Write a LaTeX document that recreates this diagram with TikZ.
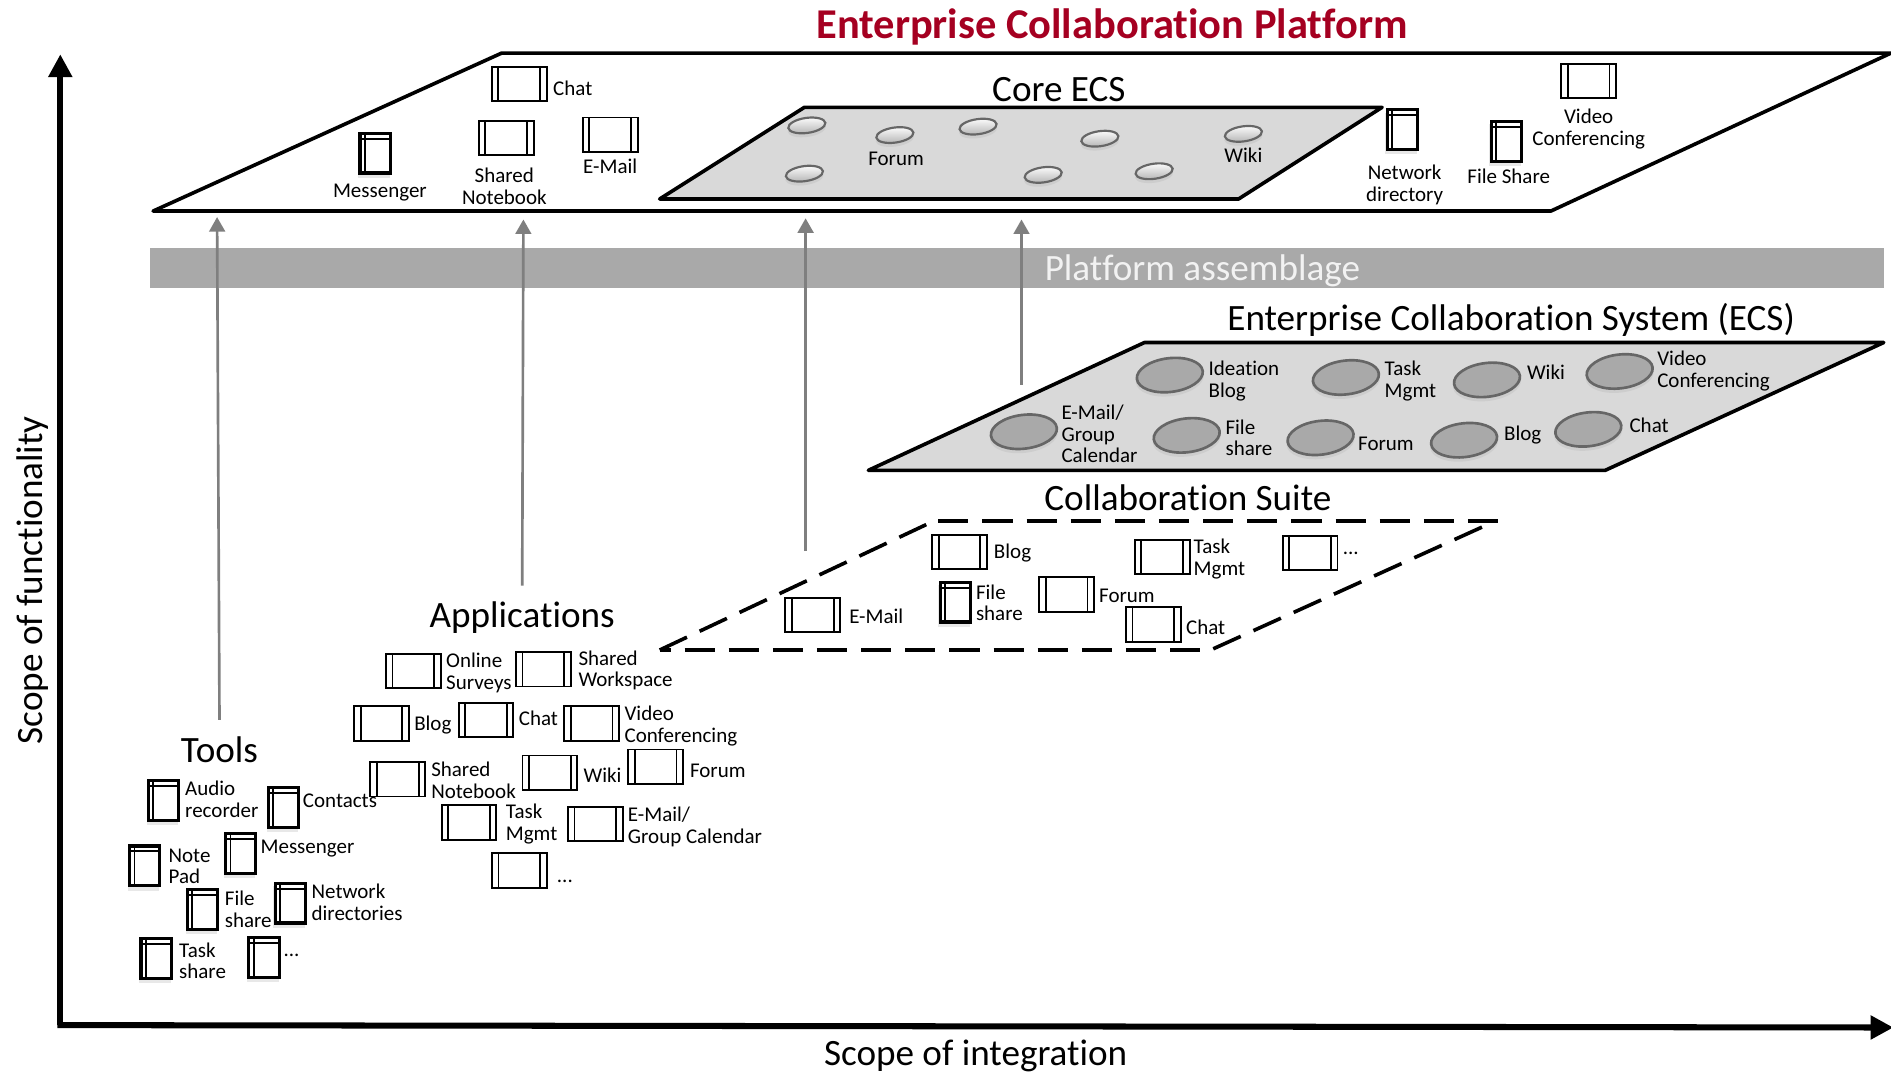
\documentclass[tikz,border=0pt]{standalone}
\usepackage{fontspec}
\setmainfont{Carlito}[Ligatures=NoCommon]
\usepackage{tikz}
\usetikzlibrary{shapes.geometric,arrows.meta,shadows}
\definecolor{platformRed}{RGB}{165,0,33}
\definecolor{planeGray}{RGB}{217,217,217}
\definecolor{bandGray}{RGB}{169,169,169}
\definecolor{flowGray}{RGB}{127,127,127}

\begin{document}
\begin{tikzpicture}[
  x=1pt, y=-1pt,
  title/.style={font=\fontsize{30.8}{36}\selectfont, inner sep=0pt},
  itemLabel/.style={font=\fontsize{17.4}{17.8}\selectfont, align=left, anchor=west, inner sep=0pt},
  itemBelow/.style={font=\fontsize{17.4}{17.8}\selectfont, align=center, inner sep=0pt}
]
	\tikzstyle{axis} = [line width=5pt, -{Triangle[length=19pt,width=19pt]}]
	\tikzstyle{upFlow} = [line width=2.2pt, draw=flowGray, -{Triangle[length=12pt,width=13pt]}]
	\tikzstyle{plane} = [line width=3pt, line join=round]
	\tikzstyle{appIcon} = [rectangle, draw=black, line width=1.6pt, fill=white, minimum width=45.5pt, minimum height=28.5pt, inner sep=0pt, path picture={
		\draw[line width=1.6pt] ([xshift=5.5pt]path picture bounding box.north west) -- ([xshift=5.5pt]path picture bounding box.south west);
		\draw[line width=1.6pt] ([xshift=-5.5pt]path picture bounding box.north east) -- ([xshift=-5.5pt]path picture bounding box.south east);
	}]
	\tikzstyle{toolIcon} = [rectangle, draw=black, line width=2.6pt, fill=white, minimum width=25pt, minimum height=33pt, inner sep=0pt, drop shadow={shadow xshift=-1pt, shadow yshift=-3pt, shadow scale=1.05, fill=black!30, opacity=0.3}, path picture={
		\draw[line width=1.6pt] ([xshift=4pt]path picture bounding box.north west) -- ([xshift=4pt]path picture bounding box.south west);
		\draw[line width=1.6pt] ([yshift=-4.5pt]path picture bounding box.north west) -- ([yshift=-4.5pt]path picture bounding box.north east);
	}]
	\tikzstyle{bigSpot} = [ellipse, draw=black!60, line width=2.2pt, fill=bandGray, minimum width=55pt, minimum height=28pt, inner sep=0pt, rotate=7, drop shadow={shadow xshift=0pt, shadow yshift=-3pt, shadow scale=1.03, fill=black!30, opacity=0.3}]
	\tikzstyle{smallSpot} = [ellipse, draw=black!60, line width=1.8pt, top color=white, bottom color=black!30, minimum width=31pt, minimum height=12.5pt, inner sep=0pt, rotate=8, drop shadow={shadow xshift=0pt, shadow yshift=-3pt, shadow scale=1.03, fill=black!30, opacity=0.3}]

	\useasboundingbox (0,0) rectangle (1568,889);

	% axes
	\coordinate (origin) at (50,850);
	\coordinate (functionTip) at (50,45);
	\coordinate (integrationTip) at (1570,852);
	\draw[axis] (origin) -- (functionTip);
	\draw[axis] ([xshift=-2.5pt]origin) -- (integrationTip);
	\node (functionLabel) [title, rotate=90] at (27,481) {Scope of functionality};
	\node (integrationLabel) [title] at (809,875.5) {Scope of integration};

	% platform
	\node (platformTitle) [title, font=\fontsize{35.2}{36}\selectfont\bfseries, text=platformRed] at (922,22) {Enterprise Collaboration Platform};
	\draw[plane, fill=white] (127,175) -- (416,44) -- (1568,44) -- (1286,175) -- cycle;
	\node (chatPlatform) [appIcon] at (430.5,69.6) {};
	\node (chatPlatformLabel) [right of=chatPlatform, node distance=28pt, itemLabel, yshift=-4pt] {Chat};
	\node (notebookPlatform) [appIcon] at (419.7,114.4) {};
	\node (notebookPlatformLabel) [below of=notebookPlatform, node distance=40pt, xshift=-1.5pt, itemBelow] {Shared\\Notebook};
	\node (emailPlatform) [appIcon] at (506,111.7) {};
	\node (emailPlatformLabel) [below of=emailPlatform, node distance=26pt, itemBelow] {E-Mail};
	\node (messengerPlatform) [toolIcon] at (311,127) {};
	\node (messengerPlatformLabel) [below of=messengerPlatform, node distance=33pt, xshift=4pt, itemBelow] {Messenger};
	\node (networkPlatform) [toolIcon] at (1162.7,107.5) {};
	\node (networkPlatformLabel) [below of=networkPlatform, node distance=46pt, xshift=2pt, itemBelow] {Network\\directory};
	\node (filePlatform) [toolIcon] at (1249,117.4) {};
	\node (filePlatformLabel) [below of=filePlatform, node distance=29pt, xshift=2pt, itemBelow] {File Share};
	\node (videoPlatform) [appIcon] at (1317.3,67) {};
	\node (videoPlatformLabel) [below of=videoPlatform, node distance=40pt, itemBelow] {Video\\Conferencing};

	% core ecs
	\node (coreTitle) [title] at (878,74) {Core ECS};
	\draw[plane, fill=planeGray] (547,165) -- (667,89) -- (1146,89) -- (1027,165) -- cycle;
	\node (coreSpot1) [smallSpot] at (669,104) {};
	\node (coreSpot2) [smallSpot] at (742,112) {};
	\node (coreSpot3) [smallSpot] at (811,105) {};
	\node (coreSpot4) [smallSpot] at (912,115) {};
	\node (coreSpot5) [smallSpot] at (1031,111) {};
	\node (coreSpot6) [smallSpot] at (667,144) {};
	\node (coreSpot7) [smallSpot] at (865,145) {};
	\node (coreSpot8) [smallSpot] at (957,142) {};
	\node (coreForum) [below of=coreSpot2, node distance=20pt, xshift=1pt, itemBelow] {Forum};
	\node (coreWiki) [below of=coreSpot5, node distance=18pt, itemBelow] {Wiki};

	% assemblage band
	\node (assemblageBand) [rectangle, fill=bandGray, minimum width=1438pt, minimum height=33pt, inner sep=0pt] at (843,222.5) {};
	\node (assemblageLabel) [title, text=white!95!black] at (997,224.5) {Platform assemblage};

	% ecs
	\node (ecsTitle) [title] at (1253,265) {Enterprise Collaboration System (ECS)};
	\draw[plane, fill=planeGray] (720,390) -- (949,284) -- (1562,284) -- (1331,390) -- cycle;
	\node (ideationSpot) [bigSpot] at (970,311) {};
	\node (ideationLabel) [right of=ideationSpot, node distance=32pt, itemLabel, yshift=-5pt] {Ideation\\Blog};
	\node (taskSpot) [bigSpot] at (1116,313) {};
	\node (taskSpotLabel) [right of=taskSpot, node distance=32pt, itemLabel, yshift=-3pt] {Task\\Mgmt};
	\node (wikiSpot) [bigSpot] at (1233,315) {};
	\node (wikiSpotLabel) [right of=wikiSpot, node distance=33pt, itemLabel, yshift=6pt] {Wiki};
	\node (videoSpot) [bigSpot] at (1343,308) {};
	\node (videoSpotLabel) [right of=videoSpot, node distance=31pt, itemLabel, yshift=0.5pt] {Video\\Conferencing};
	\node (emailSpot) [bigSpot] at (849,358) {};
	\node (emailSpotLabel) [right of=emailSpot, node distance=31pt, itemLabel, yshift=-2pt] {E-Mail/\\Group\\Calendar};
	\node (fileSpot) [bigSpot] at (984,361) {};
	\node (fileSpotLabel) [right of=fileSpot, node distance=32pt, itemLabel, yshift=-2pt] {File\\share};
	\node (forumSpot) [bigSpot] at (1095,363) {};
	\node (forumSpotLabel) [right of=forumSpot, node distance=31pt, itemLabel, yshift=-5pt] {Forum};
	\node (blogSpot) [bigSpot] at (1214,365) {};
	\node (blogSpotLabel) [right of=blogSpot, node distance=33pt, itemLabel, yshift=4pt] {Blog};
	\node (chatSpot) [bigSpot] at (1317,356) {};
	\node (chatSpotLabel) [right of=chatSpot, node distance=34pt, itemLabel, yshift=3pt] {Chat};

	% collaboration suite
	\node (suiteTitle) [title] at (985,413) {Collaboration Suite};
	\tikzstyle{suiteEdge} = [plane, dash pattern=on 25pt off 11.6pt]
	\draw[suiteEdge] (547,539) -- (768,435);
	\draw[suiteEdge] (778,432) -- (1242,432);
	\draw[suiteEdge] (1006,538) -- (1229,437);
	\draw[suiteEdge, dash phase=16pt] (547,539) -- (995,539);
	\node (blogSuite) [appIcon] at (795.5,457.7) {};
	\node (blogSuiteLabel) [right of=blogSuite, node distance=28.5pt, itemLabel, yshift=-1pt] {Blog};
	\node (taskSuite) [appIcon] at (963.6,461.9) {};
	\node (taskSuiteLabel) [right of=taskSuite, node distance=26pt, itemLabel, yshift=-1.5pt] {Task\\Mgmt};
	\node (moreSuite) [appIcon] at (1086.3,458.5) {};
	\node (moreSuiteLabel) [right of=moreSuite, node distance=27pt, itemLabel] {...};
	\node (fileSuite) [toolIcon] at (792.1,499.3) {};
	\node (fileSuiteLabel) [right of=fileSuite, node distance=17pt, itemLabel, yshift=-0.7pt] {File\\share};
	\node (forumSuite) [appIcon] at (884.5,493) {};
	\node (forumSuiteLabel) [right of=forumSuite, node distance=26.7pt, itemLabel, yshift=-1pt] {Forum};
	\node (chatSuite) [appIcon] at (956.3,517.7) {};
	\node (chatSuiteLabel) [right of=chatSuite, node distance=27pt, itemLabel, yshift=-2.3pt] {Chat};
	\node (emailSuite) [appIcon] at (674,510) {};
	\node (emailSuiteLabel) [right of=emailSuite, node distance=30pt, itemLabel, yshift=-1pt] {E-Mail};

	% applications
	\node (appsTitle) [title] at (433,512) {Applications};
	\node (onlineApp) [appIcon] at (342.7,556.4) {};
	\node (onlineAppLabel) [right of=onlineApp, node distance=27.1pt, itemLabel, yshift=-1.5pt] {Online\\Surveys};
	\node (workspaceApp) [appIcon] at (450.5,555) {};
	\node (workspaceAppLabel) [right of=workspaceApp, node distance=29pt, itemLabel, yshift=-1pt] {Shared\\Workspace};
	\node (blogApp) [appIcon] at (316.2,600) {};
	\node (blogAppLabel) [right of=blogApp, node distance=27.1pt, itemLabel, yshift=-1pt] {Blog};
	\node (chatApp) [appIcon] at (403,597) {};
	\node (chatAppLabel) [right of=chatApp, node distance=27pt, itemLabel, yshift=1.4pt] {Chat};
	\node (videoApp) [appIcon] at (490.6,600) {};
	\node (videoAppLabel) [right of=videoApp, node distance=27.1pt, itemLabel, yshift=-2pt] {Video\\Conferencing};
	\node (notebookApp) [appIcon] at (329.8,646.2) {};
	\node (notebookAppLabel) [right of=notebookApp, node distance=27.6pt, itemLabel, yshift=-0.8pt] {Shared\\Notebook};
	\node (wikiApp) [appIcon] at (456,640.7) {};
	\node (wikiAppLabel) [right of=wikiApp, node distance=27.7pt, itemLabel, yshift=-2.3pt] {Wiki};
	\node (forumApp) [appIcon] at (543.7,635.7) {};
	\node (forumAppLabel) [right of=forumApp, node distance=28.3pt, itemLabel, yshift=-3.3pt] {Forum};
	\node (taskApp) [appIcon] at (388.9,681.9) {};
	\node (taskAppLabel) [right of=taskApp, node distance=30.4pt, itemLabel, yshift=-1.5pt] {Task\\Mgmt};
	\node (emailApp) [appIcon] at (493.6,683.3) {};
	\node (emailAppLabel) [right of=emailApp, node distance=26.9pt, itemLabel, yshift=-2.2pt] {E-Mail/\\Group Calendar};
	\node (moreApp) [appIcon] at (430.6,721.7) {};
	\node (moreAppLabel) [right of=moreApp, node distance=31pt, itemLabel, yshift=-9pt] {...};

	% tools
	\node (toolsTitle) [title] at (182,622) {Tools};
	\node (audioTool) [toolIcon] at (135.7,663.6) {};
	\node (audioToolLabel) [right of=audioTool, node distance=17.7pt, itemLabel, yshift=0.8pt] {Audio\\recorder};
	\node (contactsTool) [toolIcon] at (235.2,669.7) {};
	\node (contactsToolLabel) [right of=contactsTool, node distance=15.8pt, itemLabel, yshift=6pt] {Contacts};
	\node (noteTool) [toolIcon] at (120,718) {};
	\node (noteToolLabel) [right of=noteTool, node distance=19.6pt, itemLabel, yshift=-0.4pt] {Note\\Pad};
	\node (messengerTool) [toolIcon] at (199.6,707.6) {};
	\node (messengerToolLabel) [right of=messengerTool, node distance=16.3pt, itemLabel, yshift=3.6pt] {Messenger};
	\node (fileTool) [toolIcon] at (168,754) {};
	\node (fileToolLabel) [right of=fileTool, node distance=18.3pt, itemLabel] {File\\share};
	\node (networkTool) [toolIcon] at (240.7,748.8) {};
	\node (networkToolLabel) [right of=networkTool, node distance=17.5pt, itemLabel, yshift=0.6pt] {Network\\directories};
	\node (taskTool) [toolIcon] at (129.4,794.6) {};
	\node (taskToolLabel) [right of=taskTool, node distance=19pt, itemLabel, yshift=-1.9pt] {Task\\share};
	\node (moreTool) [toolIcon] at (218.9,793.8) {};
	\node (moreToolLabel) [right of=moreTool, node distance=16pt, itemLabel, yshift=1.8pt] {...};

	% arrows up to the platform
	\coordinate (toolsTip) at (180,180);
	\coordinate (appsTip) at (434,182);
	\coordinate (suiteTip) at (668,181);
	\coordinate (ecsTip) at (847,182);
	\coordinate (suiteFoot) at (668,457);
	\coordinate (ecsFoot) at (847,319);
	\draw[upFlow] ([yshift=14pt]toolsTitle.north) -- (toolsTip);
	\draw[upFlow] ([yshift=13pt]appsTitle.north) -- (appsTip);
	\draw[upFlow] (suiteFoot) -- (suiteTip);
	\draw[upFlow] (ecsFoot) -- (ecsTip);
\end{tikzpicture}
\end{document}
